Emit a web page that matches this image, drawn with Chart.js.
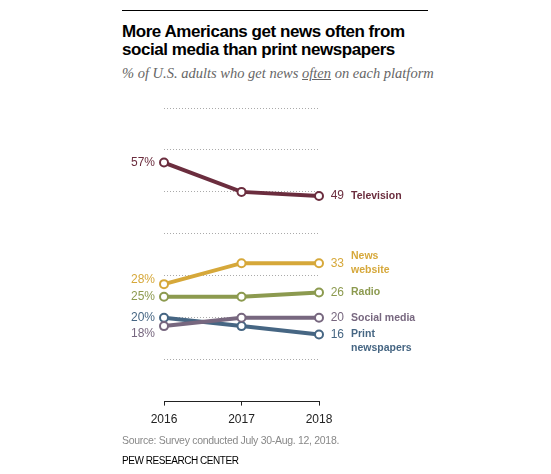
<!DOCTYPE html>
<html>
<head>
<meta charset="utf-8">
<script src="https://cdn.jsdelivr.net/npm/chart.js@4.4.1/dist/chart.umd.min.js"></script>
<style>
    html, body { margin: 0; padding: 0; background: #fff; }
    body { width: 551px; height: 474px; position: relative; overflow: hidden; font-family: 'Liberation Sans', Arial, sans-serif; }
    #chart { position: absolute; left: 0; top: 0; }
    .rule { position: absolute; left: 122px; top: 10px; width: 306px; height: 1px; background: #000; }
    .title { position: absolute; left: 122px; top: 23px; font-size: 17px; line-height: 18px; font-weight: bold; color: #000; letter-spacing: -0.45px; }
    .subtitle { position: absolute; left: 122px; top: 65px; font-family: 'Liberation Serif', serif; font-style: italic; font-size: 14.5px; line-height: 16px; color: #666; }
    .source { position: absolute; left: 122px; top: 434px; font-size: 10.5px; line-height: 13px; color: #888; letter-spacing: -0.3px; }
    .org { position: absolute; left: 122px; top: 455px; font-size: 10px; line-height: 12px; color: #000; letter-spacing: -0.45px; }
</style>
</head>
<body>
<div class="rule"></div>
<div class="title">More Americans get news often from<br>social media than print newspapers</div>
<div class="subtitle">% of U.S. adults who get news <u>often</u> on each platform</div>
<canvas id="chart" width="551" height="474"></canvas>
<div class="source">Source: Survey conducted July 30-Aug. 12, 2018.</div>
<div class="org">PEW RESEARCH CENTER</div>
<script>
const years = ['2016', '2017', '2018'];
const seriesNames = ['Television', 'News\nwebsite', 'Radio', 'Social media', 'Print\nnewspapers'];
const television = [57, 50, 49];
const newsWebsite = [28, 33, 33];
const radio = [25, 25, 26];
const socialMedia = [18, 20, 20];
const printNewspapers = [20, 18, 16];

const colors = ['#6b2d3e', '#d6a83a', '#8c9a4f', '#77677f', '#466683'];
// small vertical nudges so the left labels don't collide
const leftNudge = [0, -4, 0, 8, 0];
// how the multi-line names sit next to the end point
const nameAlign = ['middle', 'middle', 'middle', 'middle', 'top'];

const allSeries = [television, newsWebsite, radio, socialMedia, printNewspapers];

// draws the start % labels and the end value + name labels
const endLabels = {
    id: 'endLabels',
    afterDatasetsDraw(chart) {
        const ctx = chart.ctx;
        const x = chart.scales.x;
        const y = chart.scales.y;
        ctx.save();
        ctx.textBaseline = 'middle';
        allSeries.forEach((values, i) => {
            const x0 = x.getPixelForValue(0);
            const x1 = x.getPixelForValue(values.length - 1);
            const y0 = y.getPixelForValue(values[0]);
            const y1 = y.getPixelForValue(values[values.length - 1]);

            ctx.fillStyle = colors[i];
            ctx.font = "12px 'Liberation Sans', Arial, sans-serif";
            ctx.textAlign = 'right';
            ctx.fillText(values[0] + '%', x0 - 9, y0 + leftNudge[i]);
            ctx.fillText(String(values[values.length - 1]), x1 + 25, y1);

            ctx.textAlign = 'left';
            ctx.font = "bold 10.5px 'Liberation Sans', Arial, sans-serif";
            const lines = seriesNames[i].split('\n');
            const lh = 13.5;
            let start = y1;
            if (nameAlign[i] === 'middle') start = y1 - (lines.length - 1) * lh / 2;
            lines.forEach((line, k) => ctx.fillText(line, x1 + 32, start + k * lh));
        });
        ctx.restore();
    }
};

const datasets = allSeries.map((values, i) => ({
    label: seriesNames[i].replace('\n', ' '),
    data: values,
    borderColor: colors[i],
    backgroundColor: '#fff',
    borderWidth: 4,
    pointRadius: 4,
    pointBorderWidth: 2,
    pointBorderColor: colors[i],
    pointBackgroundColor: '#fff',
    tension: 0,
    clip: false
}));

new Chart(document.getElementById('chart'), {
    type: 'line',
    data: { labels: years, datasets: datasets },
    options: {
        responsive: false,
        devicePixelRatio: 1,
        animation: false,
        layout: {
            padding: { left: 164, right: 232, top: 108, bottom: 40 }
        },
        scales: {
            x: {
                offset: false,
                grid: {
                    drawOnChartArea: false,
                    tickLength: 4,
                    color: '#222',
                    offset: false
                },
                border: { color: '#222', width: 1 },
                ticks: {
                    color: '#222',
                    padding: 7,
                    font: { family: "'Liberation Sans', Arial, sans-serif", size: 12 }
                }
            },
            y: {
                min: 0,
                max: 70,
                ticks: { display: false, stepSize: 10 },
                grid: {
                    drawTicks: false,
                    color: c => c.tick && c.tick.value === 0 ? 'rgba(0,0,0,0)' : '#aaa'
                },
                border: { display: false, dash: [1, 2] }
            }
        },
        plugins: {
            legend: { display: false },
            tooltip: { enabled: false }
        }
    },
    plugins: [endLabels]
});
</script>
</body>
</html>
